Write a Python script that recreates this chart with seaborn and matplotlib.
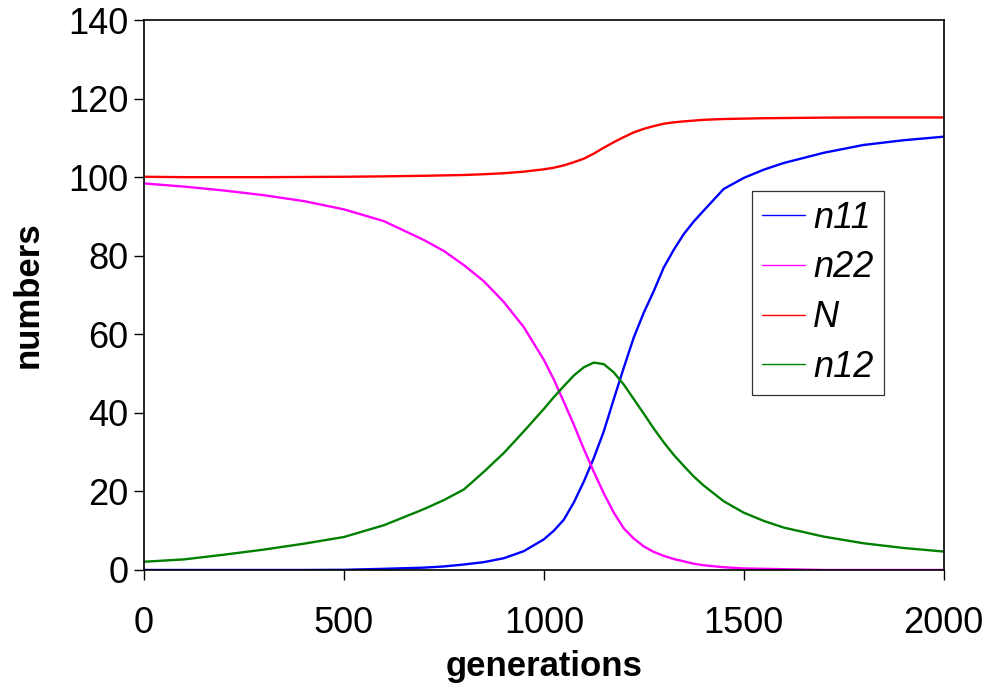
import matplotlib
matplotlib.use("Agg")
import matplotlib.pyplot as plt
import seaborn as sns
import pandas as pd

generations = [0, 100, 200, 300, 400, 500, 600, 700, 750, 800, 850, 900, 950, 1000,
               1025, 1050, 1075, 1100, 1125, 1150, 1175, 1200, 1225, 1250, 1275,
               1300, 1325, 1350, 1375, 1400, 1450, 1500, 1550, 1600, 1700, 1800,
               1900, 2000]

n11 = [0, 0, 0, 0, 0, 0.05, 0.3, 0.6, 0.9, 1.4, 2.0, 3.0, 4.8, 7.8,
       10.0, 12.8, 17.2, 22.5, 28.5, 35.3, 43.5, 51.5, 59.2, 65.5, 71.0,
       77.0, 81.5, 85.5, 88.7, 91.5, 97.0, 99.8, 101.9, 103.6, 106.2, 108.2,
       109.4, 110.3]

n22 = [98.4, 97.6, 96.6, 95.4, 93.9, 91.8, 88.8, 84.0, 81.2, 77.6, 73.5, 68.2, 61.8, 53.5,
       48.5, 42.8, 37.0, 30.8, 25.0, 19.5, 14.6, 10.6, 8.0, 6.0, 4.6,
       3.6, 2.8, 2.2, 1.6, 1.2, 0.7, 0.4, 0.3, 0.2, 0.0, 0.0,
       0.0, 0.0]

N = [100.1, 100.0, 100.0, 100.0, 100.05, 100.1, 100.2, 100.35, 100.45, 100.55, 100.75, 101.0, 101.4, 102.0,
     102.4, 103.0, 103.8, 104.7, 106.0, 107.5, 108.9, 110.2, 111.4, 112.3, 113.0,
     113.6, 113.95, 114.2, 114.4, 114.6, 114.8, 114.9, 115.0, 115.05, 115.15, 115.2,
     115.2, 115.2]

n12 = [2.1, 2.7, 3.9, 5.2, 6.7, 8.4, 11.4, 15.5, 17.8, 20.5, 25.0, 29.8, 35.3, 41.0,
       44.0, 46.8, 49.5, 51.6, 52.8, 52.4, 50.3, 47.2, 43.5, 39.8, 36.0,
       32.5, 29.3, 26.5, 23.8, 21.5, 17.5, 14.6, 12.5, 10.8, 8.5, 6.8,
       5.6, 4.7]

series_names = ["n11", "n22", "N", "n12"]
series_values = [n11, n22, N, n12]
colors = ["#0000FF", "#FF00FF", "#FF0000", "#008000"]

rows = []
for name, vals in zip(series_names, series_values):
    for g, v in zip(generations, vals):
        rows.append({"generations": g, "numbers": v, "series": name})
df = pd.DataFrame(rows)

sns.set_style("white")
plt.rcParams["font.family"] = ["Liberation Sans", "DejaVu Sans"]
plt.rcParams["text.color"] = "black"
plt.rcParams["axes.labelcolor"] = "black"
plt.rcParams["xtick.color"] = "black"
plt.rcParams["ytick.color"] = "black"

fig = plt.figure(figsize=(9.87, 6.93), dpi=100)
ax = fig.add_axes([0.146, 0.1775, 0.81, 0.7936])

sns.lineplot(data=df, x="generations", y="numbers", hue="series",
             hue_order=series_names, palette=colors, linewidth=1.7,
             ax=ax, legend=True, estimator=None, sort=True)

ax.set_xlim(0, 2000)
ax.set_ylim(0, 140)
ax.set_xticks([0, 500, 1000, 1500, 2000])
ax.set_yticks([0, 20, 40, 60, 80, 100, 120, 140])
ax.tick_params(axis="both", direction="out", length=7.2, width=1, colors="black",
               labelsize=26, left=True, bottom=True)
ax.tick_params(axis="x", pad=18.5)
ax.tick_params(axis="y", pad=4)
for s in ax.spines.values():
    s.set_color("black")
    s.set_linewidth(1.2)

ax.set_xlabel("generations", fontsize=25, fontweight="bold", labelpad=7)
ax.set_ylabel("numbers", fontsize=25, fontweight="bold", labelpad=17)

handles, labels = ax.get_legend_handles_labels()
for h in handles:
    h.set_linewidth(1.0)
leg = ax.legend(handles, labels, loc="upper left", bbox_to_anchor=(0.760, 0.690),
                borderaxespad=0, frameon=True, fancybox=False, shadow=False,
                prop={"size": 26, "style": "italic"}, handlelength=1.2,
                handletextpad=0.22, labelspacing=0.41, borderpad=0.28)
leg.get_frame().set_edgecolor("black")
leg.get_frame().set_linewidth(0.9)

fig.savefig("out.png", dpi=100)
